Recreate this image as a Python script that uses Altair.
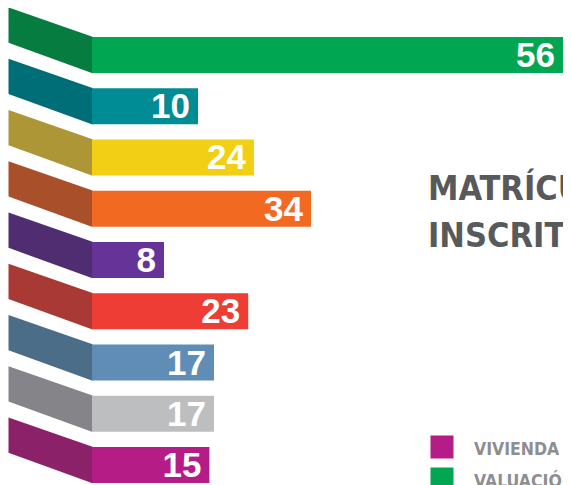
import altair as alt
import pandas as pd

# ---- data ----
rows = ["A", "B", "C", "D", "E", "F", "G", "H", "I"]
values = [56, 10, 24, 34, 8, 23, 17, 17, 15]
front_colors = ["#00a651", "#008c95", "#f2cf14", "#f26a22", "#663399",
                "#ee3d35", "#5f8db5", "#bcbec0", "#b51c85"]
side_colors = ["#077c41", "#006e76", "#ad9636", "#a9502a", "#4f2d70",
               "#a93934", "#4b6d88", "#858589", "#8b2169"]
title_lines = ["MATRÍCULAS", "INSCRITOS"]
legend_labels = ["VIVIENDA", "VALUACIÓN"]
legend_colors = ["#b51c85", "#00a651"]

df = pd.DataFrame({"row": rows, "value": values,
                   "front": front_colors, "side": side_colors})

W, H = 555, 477
num_font = "'Liberation Sans', Arial, sans-serif"
title_font = "'DejaVu Sans Condensed', 'Liberation Sans Narrow', sans-serif"

yband = alt.Y("row:N", sort=rows, axis=None,
              scale=alt.Scale(range=[29, 475], paddingInner=0.2976, paddingOuter=0))
xval = alt.X("value:Q", axis=None,
             scale=alt.Scale(domain=[0, 8, 10, 17, 34, 56],
                             range=[84, 156, 190, 206, 303, 555],
                             nice=False, zero=False))

face_path = "M-1,-1.1325L1,-0.4337L1,0.4337L-1,-0.289Z"
faces = alt.Chart(df).mark_point(shape=face_path, filled=True, opacity=1,
                                 strokeWidth=0, size=84 * 84).encode(
    x=alt.value(42.5), y=yband, color=alt.Color("side:N", scale=None))

bars = alt.Chart(df).mark_bar(cornerRadius=0).encode(
    x=xval, y=yband, color=alt.Color("front:N", scale=None))

labels = alt.Chart(df).mark_text(align="right", baseline="alphabetic", dx=-8, dy=12,
                                 font=num_font, fontSize=35, fontWeight="bold",
                                 color="white").encode(
    x=xval, y=yband, text="value:Q")

layers = [faces, bars, labels]

for i, line in enumerate(title_lines):
    layers.append(alt.Chart(pd.DataFrame({"t": [line]})).mark_text(
        align="left", baseline="alphabetic", font=title_font, fontSize=34,
        fontWeight="bold", color="#58595b").encode(
        x=alt.value(420), y=alt.value(192 + 47 * i), text="t:N"))

for i, (lab, col) in enumerate(zip(legend_labels, legend_colors)):
    d = pd.DataFrame({"t": [lab], "c": [col]})
    layers.append(alt.Chart(d).mark_square(size=23 * 23, opacity=1, strokeWidth=0).encode(
        x=alt.value(434), y=alt.value(439 + 32 * i), color=alt.Color("c:N", scale=None)))
    layers.append(alt.Chart(d).mark_text(
        align="left", baseline="alphabetic", font=title_font, fontSize=17.5,
        fontWeight="bold", color="#8d8e90").encode(
        x=alt.value(466), y=alt.value(447 + 32 * i), text="t:N"))

chart = alt.layer(*layers).properties(
    width=W, height=H, autosize=alt.AutoSizeParams(type="none"),
    padding=0, background="white"
).configure_view(stroke=None)

chart.save("out.html", embed_options={"renderer": "svg", "actions": False})
